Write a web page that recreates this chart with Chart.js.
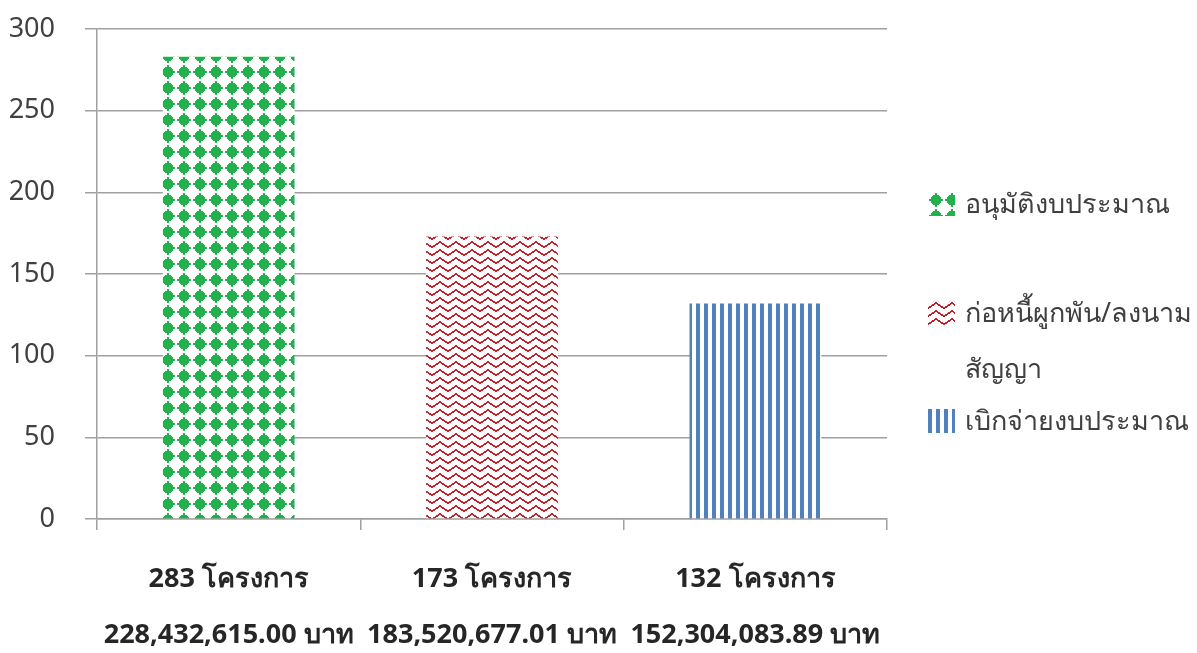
<!DOCTYPE html>
<html>
<head>
<meta charset="utf-8">
<script src="https://cdn.jsdelivr.net/npm/chart.js@4"></script>
<style>
  body { margin: 0; background: #fff; }
  #wrap { position: relative; width: 1197px; height: 653px; }
  #legend { position: absolute; left: 928px; top: 175px; font-family: "Noto Sans", "DejaVu Sans", sans-serif; font-size: 27px; color: #404040; }
  .item { display: flex; align-items: flex-start; line-height: 56px; white-space: pre-line; }
  .item canvas { margin-top: 17px; margin-right: 10px; flex: none; }
</style>
</head>
<body>
<div id="wrap">
  <canvas id="BarChart" width="1197" height="653"></canvas>
  <div id="legend"></div>
</div>
<script>
var categories = [
    ["283 โครงการ", "228,432,615.00 บาท"],
    ["173 โครงการ", "183,520,677.01 บาท"],
    ["132 โครงการ", "152,304,083.89 บาท"]
];
var values = [283, 173, 132];
var seriesNames = ["อนุมัติงบประมาณ", "ก่อหนี้ผูกพัน/ลงนาม\nสัญญา", "เบิกจ่ายงบประมาณ"];
var yTicks = [0, 50, 100, 150, 200, 250, 300];

// pattern tiles, drawn like the office fill patterns
function greenTile() {
    var c = document.createElement("canvas");
    c.width = 16; c.height = 16;
    var g = c.getContext("2d");
    g.fillStyle = "#fff"; g.fillRect(0, 0, 16, 16);
    g.fillStyle = "#22b14c";
    // stepped cross/diamond centred on (8,8)
    g.fillRect(7, 1, 2, 14);
    g.fillRect(1, 7, 14, 2);
    g.fillRect(5, 3, 6, 10);
    g.fillRect(3, 5, 10, 6);
    g.fillRect(4, 4, 8, 8);
    return c;
}
function redTile() {
    var c = document.createElement("canvas");
    c.width = 16; c.height = 8;
    var g = c.getContext("2d");
    g.fillStyle = "#fff"; g.fillRect(0, 0, 16, 8);
    g.fillStyle = "#c0202a";
    var ys = [6, 5, 5, 4, 3, 3, 2, 1, 1, 2, 3, 3, 4, 5, 5, 6];
    for (var x = 0; x < 16; x++) {
        g.fillRect(x, ys[x], 1, 2);
    }
    return c;
}
function blueTile() {
    var c = document.createElement("canvas");
    c.width = 8; c.height = 1;
    var g = c.getContext("2d");
    g.fillStyle = "#fff"; g.fillRect(0, 0, 8, 1);
    g.fillStyle = "#4f81bd"; g.fillRect(0, 0, 4, 1);
    return c;
}

var ctx = document.getElementById("BarChart").getContext("2d");
var tiles = [greenTile(), redTile(), blueTile()];
var patterns = tiles.map(function (t) { return ctx.createPattern(t, "repeat"); });

var myChart = new Chart(ctx, {
    type: "bar",
    data: {
        labels: categories,
        datasets: [{
            data: values,
            backgroundColor: patterns,
            borderWidth: 0,
            categoryPercentage: 1,
            barPercentage: 0.5
        }]
    },
    options: {
        responsive: false,
        animation: false,
        layout: { padding: { top: 29, right: 310, left: 0, bottom: 0 } },
        plugins: { legend: { display: false }, tooltip: { enabled: false } },
        scales: {
            x: {
                grid: { offset: true, drawOnChartArea: false, drawTicks: true, tickLength: 11, color: "#a0a0a0", lineWidth: 1.5 },
                border: { color: "#a0a0a0", width: 1.5 },
                ticks: {
                    padding: 22,
                    color: "#262626",
                    font: { family: "'Noto Sans', 'DejaVu Sans', sans-serif", size: 27, weight: "bold", lineHeight: 2.05 }
                },
                afterFit: function (s) { s.height = 134; s.paddingLeft = 0; s.paddingRight = 0; }
            },
            y: {
                min: 0,
                max: 300,
                afterBuildTicks: function (s) { s.ticks = yTicks.map(function (v) { return { value: v }; }); },
                grid: { color: "#a0a0a0", lineWidth: 1.5, tickLength: 12 },
                border: { color: "#a0a0a0", width: 1.5 },
                ticks: {
                    padding: 30,
                    color: "#404040",
                    font: { family: "'Noto Sans', 'DejaVu Sans', sans-serif", size: 27 }
                },
                afterFit: function (s) { s.width = 97; s.paddingTop = 0; s.paddingBottom = 0; }
            }
        }
    }
});

// legend on the right, built from the series names
var legend = document.getElementById("legend");
var gaps = [0, 53, -4];
seriesNames.forEach(function (name, i) {
    var item = document.createElement("div");
    item.className = "item";
    item.style.marginTop = gaps[i] + "px";
    var sw = document.createElement("canvas");
    sw.width = 27; sw.height = 24;
    var sctx = sw.getContext("2d");
    sctx.fillStyle = sctx.createPattern(tiles[i], "repeat");
    sctx.fillRect(0, 0, 27, 24);
    var txt = document.createElement("span");
    txt.textContent = name;
    item.appendChild(sw);
    item.appendChild(txt);
    legend.appendChild(item);
});
</script>
</body>
</html>
